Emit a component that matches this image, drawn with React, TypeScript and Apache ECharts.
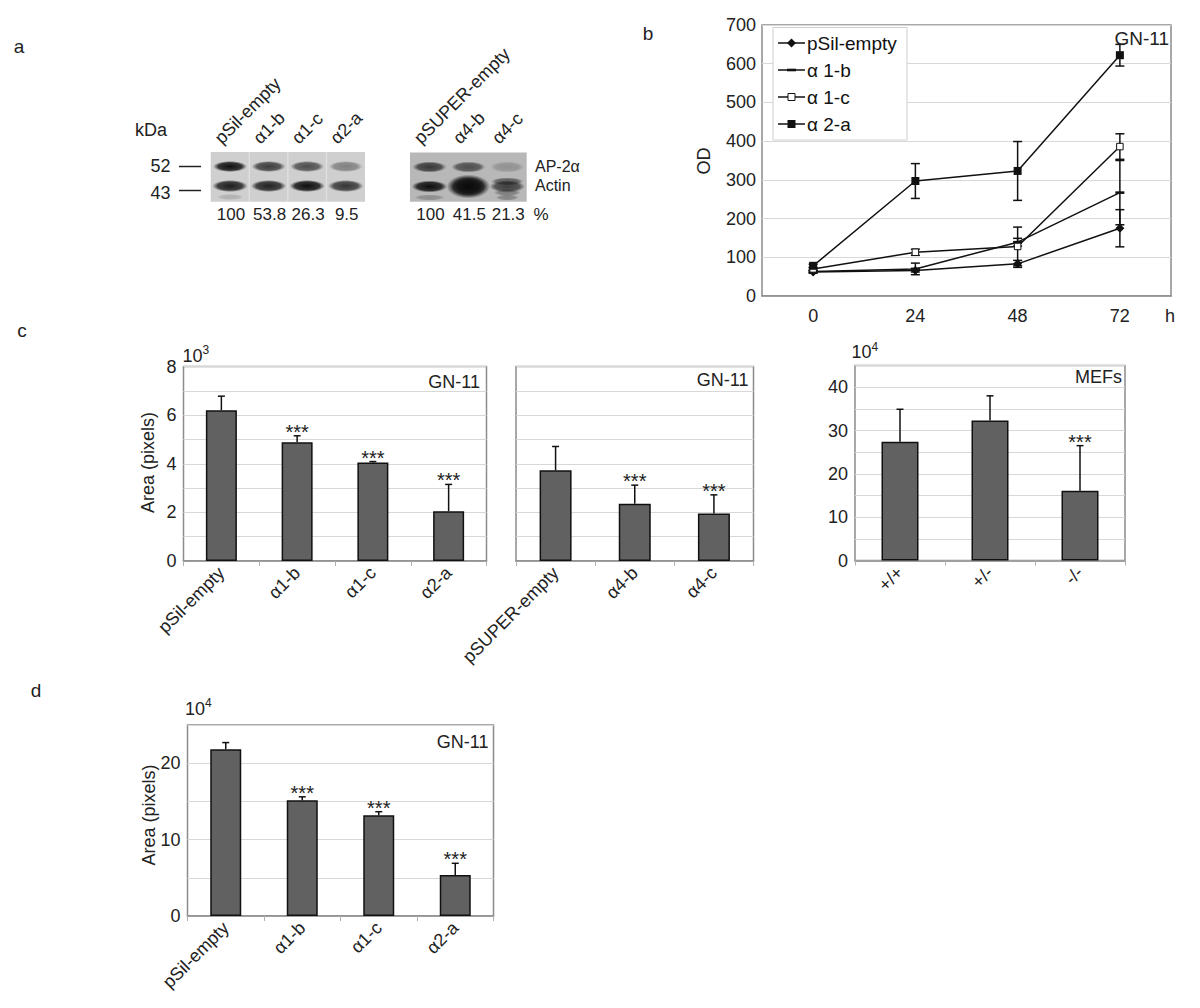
import React, { useEffect, useRef } from 'react';
import * as echarts from 'echarts';

const FONT = '"Liberation Sans", Arial, Helvetica, sans-serif';
const TXT = '#222';
const FRAME = '#8c8c8c';
const GRIDLINE = '#d8d8d8';
const BAR = '#616161';

// ---------- Panel a (western blots) ----------
const blot1Lanes = ['pSil-empty', 'α1-b', 'α1-c', 'α2-a'];
const blot1Percents = ['100', '53.8', '26.3', '9.5'];
const blot1Ap2 = [0.97, 0.74, 0.66, 0.4];
const blot1Actin = [0.9, 0.88, 0.98, 0.78];
const blot2Lanes = ['pSUPER-empty', 'α4-b', 'α4-c'];
const blot2Percents = ['100', '41.5', '21.3'];
const blot2Ap2 = [0.74, 0.62, 0.22];
const blot2Actin = [0.98, 1.0, 0.7];
const kDaMarkers = ['52', '43'];
const bandNames = ['AP-2α', 'Actin'];

// ---------- Panel b (OD growth curves) ----------
const hours = ['0', '24', '48', '72'];
const odNames = ['pSil-empty', 'α 1-b', 'α 1-c', 'α 2-a'];
const odPSil = [62, 66, 83, 175];
const odA1b = [63, 70, 139, 267];
const odA1c = [70, 113, 128, 386];
const odA2a = [78, 297, 323, 622];
const odPSilErr = [3, 4, 9, 48];
const odA1bErr = [3, 15, 10, 83];
const odA1cErr = [3, 8, 50, 33];
const odA2aErr = [4, 45, 76, 28];

// ---------- Panel c ----------
const c1Cats = ['pSil-empty', 'α1-b', 'α1-c', 'α2-a'];
const c1Means = [6.2, 4.88, 4.05, 2.05];
const c1Errs = [0.58, 0.27, 0.04, 1.1];
const c1Stars = [0, 1, 1, 1];
const c2Cats = ['pSUPER-empty', 'α4-b', 'α4-c'];
const c2Means = [3.73, 2.35, 1.95];
const c2Errs = [0.98, 0.77, 0.77];
const c2Stars = [0, 1, 1];
const c3Cats = ['+/+', '+/-', '-/-'];
const c3Means = [27.4, 32.3, 16.1];
const c3Errs = [7.5, 5.7, 10.4];
const c3Stars = [0, 0, 1];

// ---------- Panel d ----------
const dCats = ['pSil-empty', 'α1-b', 'α1-c', 'α2-a'];
const dMeans = [21.83, 15.15, 13.2, 5.37];
const dErrs = [0.87, 0.45, 0.45, 1.53];
const dStars = [0, 1, 1, 1];

function txt(text: string, x: number, y: number, fontSize = 18, align = 'center', extra: any = {}) {
  return {
    type: 'text', x, y, silent: true, z: 20,
    style: { text, fontSize, fontFamily: FONT, fill: TXT, align, verticalAlign: 'middle' },
    ...extra,
  };
}

function band(cx: number, cy: number, rx: number, ry: number, a: number) {
  return {
    type: 'ellipse', silent: true, z: 11,
    shape: { cx, cy, rx, ry },
    style: {
      fill: new echarts.graphic.RadialGradient(0.5, 0.5, 0.5, [
        { offset: 0, color: `rgba(10,10,10,${a})` },
        { offset: 0.7, color: `rgba(20,20,20,${a * 0.85})` },
        { offset: 1, color: 'rgba(40,40,40,0)' },
      ]),
    },
  };
}

function blot(x: number, y: number, w: number, h: number, bg: string, lanes: string[], percents: string[], ap2: number[], actin: number[], second: boolean) {
  const els: any[] = [];
  els.push({ type: 'rect', silent: true, z: 10, shape: { x, y, width: w, height: h }, style: { fill: bg } });
  const lw = w / lanes.length;
  lanes.forEach((lab, i) => {
    const cx = x + lw * (i + 0.5);
    if (!second && i > 0) {
      els.push({ type: 'line', silent: true, z: 10, shape: { x1: x + lw * i, y1: y, x2: x + lw * i, y2: y + h }, style: { stroke: '#dedede', lineWidth: 1.5 } });
    }
    els.push(band(cx, y + 14.5, lw * 0.44, 5.5, ap2[i]));
    if (second && i === 1) {
      els.push(band(cx, y + 34, lw * 0.56, 12, actin[i]));
      els.push(band(cx, y + 34, lw * 0.42, 9, actin[i]));
    } else {
      els.push(band(cx, y + 34, lw * 0.46, 6, actin[i]));
    }
    if (second && i === 2) {
      els.push(band(cx, y + 29, lw * 0.42, 4, 0.55));
      els.push(band(cx, y + 40, lw * 0.35, 3.5, 0.35));
      els.push(band(cx, y + 45, lw * 0.3, 3, 0.3));
    }
    if (second && i === 0) els.push(band(cx, y + 45, lw * 0.4, 3, 0.25));
    if (!second && i === 0) els.push(band(cx, y + 45, lw * 0.35, 3, 0.15));
    els.push(txt(percents[i], cx + 1, 214, 17));
    els.push({
      type: 'text', silent: true, z: 20, x: cx - 6, y: 147, rotation: Math.PI / 4,
      style: { text: lab, fontSize: 18, fontFamily: FONT, fill: TXT, align: 'left', verticalAlign: 'bottom' },
    });
  });
  return els;
}

function barErrSeries(idx: number, means: number[], errs: number[], stars: number[], cap = 7) {
  return {
    type: 'custom', xAxisIndex: idx, yAxisIndex: idx, z: 6, silent: true,
    data: means.map((m, i) => [i, m, m + errs[i], stars[i]]),
    renderItem: (params: any, api: any) => {
      const i = api.value(0);
      const p0 = api.coord([i, api.value(1)]);
      const p1 = api.coord([i, api.value(2)]);
      const children: any[] = [
        { type: 'line', shape: { x1: p0[0], y1: p0[1], x2: p1[0], y2: p1[1] }, style: { stroke: '#111', lineWidth: 1.5 } },
        { type: 'line', shape: { x1: p1[0] - cap / 2, y1: p1[1], x2: p1[0] + cap / 2, y2: p1[1] }, style: { stroke: '#111', lineWidth: 1.5 } },
      ];
      if (api.value(3)) {
        children.push({ type: 'text', x: p1[0], y: p1[1] - 4, style: { text: '***', fontSize: 20, fontFamily: FONT, fill: TXT, align: 'center', verticalAlign: 'middle' } });
      }
      return { type: 'group', children };
    },
  };
}

function odErrSeries(vals: number[], errs: number[]) {
  return {
    type: 'custom', xAxisIndex: 0, yAxisIndex: 0, z: 4, silent: true,
    data: vals.map((v, i) => [i, v - errs[i], v + errs[i]]),
    renderItem: (params: any, api: any) => {
      const i = api.value(0);
      const lo = api.coord([i, api.value(1)]);
      const hi = api.coord([i, api.value(2)]);
      const c = 4.5;
      return {
        type: 'group',
        children: [
          { type: 'line', shape: { x1: lo[0], y1: lo[1], x2: hi[0], y2: hi[1] }, style: { stroke: '#111', lineWidth: 1.5 } },
          { type: 'line', shape: { x1: lo[0] - c, y1: lo[1], x2: lo[0] + c, y2: lo[1] }, style: { stroke: '#111', lineWidth: 1.5 } },
          { type: 'line', shape: { x1: hi[0] - c, y1: hi[1], x2: hi[0] + c, y2: hi[1] }, style: { stroke: '#111', lineWidth: 1.5 } },
        ],
      };
    },
  };
}

function catAxis(gridIndex: number, data: string[]) {
  return {
    gridIndex, type: 'category', data,
    axisLine: { show: true, lineStyle: { color: FRAME, width: 1.5 } },
    axisTick: { show: true, length: 5, lineStyle: { color: '#b0b0b0' } },
    axisLabel: { rotate: 45, fontSize: 18, fontFamily: FONT, color: TXT, margin: 9, interval: 0 },
  };
}

function valAxis(gridIndex: number, max: number, interval: number, every: number, showLabels = true) {
  return {
    gridIndex, type: 'value', min: 0, max, interval,
    axisLine: { show: false }, axisTick: { show: false },
    splitLine: { show: true, lineStyle: { color: GRIDLINE, width: 1 } },
    axisLabel: {
      show: showLabels, fontSize: 18, fontFamily: FONT, color: TXT, margin: 7,
      formatter: (v: number) => (Math.round(v) % every === 0 ? String(v) : ''),
    },
  };
}

function barSeries(idx: number, means: number[], width: number) {
  return {
    type: 'bar', xAxisIndex: idx, yAxisIndex: idx, data: means, barWidth: width, silent: true,
    itemStyle: { color: BAR, borderColor: '#111', borderWidth: 1.5 },
  };
}

function sup(base: string, exp: string, x: number, y: number) {
  return {
    type: 'text', x, y, silent: true, z: 20,
    style: {
      text: `{a|${base}}{b|${exp}}`, fontFamily: FONT, fill: TXT, align: 'left', verticalAlign: 'middle',
      rich: { a: { fontSize: 18, fontFamily: FONT, fill: TXT }, b: { fontSize: 12, fontFamily: FONT, fill: TXT, padding: [0, 0, 11, 0] } },
    },
  };
}

function legendEls() {
  const els: any[] = [];
  els.push({ type: 'rect', silent: true, z: 15, shape: { x: 773, y: 27.5, width: 134, height: 112.5 }, style: { fill: '#fff', stroke: '#cfcfcf', lineWidth: 1 } });
  odNames.forEach((n, i) => {
    const y = 43 + i * 27;
    els.push({ type: 'line', silent: true, z: 16, shape: { x1: 778, y1: y, x2: 805, y2: y }, style: { stroke: '#111', lineWidth: 1.5 } });
    const cx = 791.5;
    if (i === 0) els.push({ type: 'polygon', silent: true, z: 17, shape: { points: [[cx, y - 4.5], [cx + 4.5, y], [cx, y + 4.5], [cx - 4.5, y]] }, style: { fill: '#111' } });
    if (i === 1) els.push({ type: 'rect', silent: true, z: 17, shape: { x: cx - 4.5, y: y - 1.3, width: 9, height: 2.6 }, style: { fill: '#111' } });
    if (i === 2) els.push({ type: 'rect', silent: true, z: 17, shape: { x: cx - 3.5, y: y - 3.5, width: 7, height: 7 }, style: { fill: '#fff', stroke: '#111', lineWidth: 1 } });
    if (i === 3) els.push({ type: 'rect', silent: true, z: 17, shape: { x: cx - 4, y: y - 4, width: 8, height: 8 }, style: { fill: '#111' } });
    els.push({ type: 'text', silent: true, z: 17, x: 807, y, style: { text: n, fontSize: 19, fontFamily: FONT, fill: '#111', align: 'left', verticalAlign: 'middle' } });
  });
  return els;
}

export default function App() {
  const ref = useRef<HTMLDivElement>(null);
  useEffect(() => {
    if (!ref.current) return;
    const chart = echarts.init(ref.current, undefined, { renderer: 'svg' });
    const lineStyle = { color: '#111', width: 1.5 };
    const graphics: any[] = [
      txt('a', 19, 46, 19), txt('b', 648, 33, 19), txt('c', 22, 330, 19), txt('d', 36, 690, 19),
      // panel a
      txt('kDa', 135, 129.5, 18, 'left'),
      txt(kDaMarkers[0], 170.5, 166, 18, 'right'),
      txt(kDaMarkers[1], 170.5, 192.5, 18, 'right'),
      { type: 'line', silent: true, z: 20, shape: { x1: 179, y1: 166.5, x2: 201, y2: 166.5 }, style: { stroke: TXT, lineWidth: 1.5 } },
      { type: 'line', silent: true, z: 20, shape: { x1: 179, y1: 190.5, x2: 201, y2: 190.5 }, style: { stroke: TXT, lineWidth: 1.5 } },
      ...blot(210.7, 152, 154.3, 49.7, '#cfcfcf', blot1Lanes, blot1Percents, blot1Ap2, blot1Actin, false),
      ...blot(410, 152.5, 116.7, 49.2, '#b8b8b8', blot2Lanes, blot2Percents, blot2Ap2, blot2Actin, true),
      txt(bandNames[0], 535, 166.5, 16, 'left'),
      txt(bandNames[1], 535, 185, 16, 'left'),
      txt('%', 541, 214, 17),
      // panel b
      txt('OD', 704, 161, 18, 'center', { rotation: Math.PI / 2 }),
      txt('h', 1170, 316, 18),
      txt('GN-11', 1169, 38, 19, 'right'),
      ...legendEls(),
      // panel c
      txt('Area (pixels)', 147.5, 462.5, 18, 'center', { rotation: Math.PI / 2 }),
      sup('10', '3', 182.5, 355.5),
      txt('GN-11', 480, 382, 18, 'right'),
      txt('GN-11', 748.5, 380, 18, 'right'),
      sup('10', '4', 851.5, 352),
      txt('MEFs', 1122, 377, 18, 'right'),
      // panel d
      txt('Area (pixels)', 148.5, 815, 18, 'center', { rotation: Math.PI / 2 }),
      sup('10', '4', 185, 708.5),
      txt('GN-11', 488.5, 742, 18, 'right'),
    ];

    const option: any = {
      animation: false,
      backgroundColor: '#fff',
      textStyle: { fontFamily: FONT },
      grid: [
        { left: 762, top: 25, width: 409, height: 271, show: true, borderColor: FRAME, borderWidth: 1.5, containLabel: false },
        { left: 183.5, top: 366.5, width: 303, height: 194.5, show: true, borderColor: FRAME, borderWidth: 1.5 },
        { left: 516, top: 366.5, width: 237.5, height: 194.5, show: true, borderColor: FRAME, borderWidth: 1.5 },
        { left: 855, top: 365.5, width: 270, height: 195, show: true, borderColor: FRAME, borderWidth: 1.5 },
        { left: 187.5, top: 725, width: 306, height: 191, show: true, borderColor: FRAME, borderWidth: 1.5 },
      ],
      xAxis: [
        {
          gridIndex: 0, type: 'category', data: hours, boundaryGap: true,
          axisLine: { show: true, lineStyle: { color: FRAME, width: 1.5 } }, axisTick: { show: false },
          axisLabel: { fontSize: 18, fontFamily: FONT, color: TXT, margin: 11 },
        },
        catAxis(1, c1Cats),
        catAxis(2, c2Cats),
        catAxis(3, c3Cats),
        catAxis(4, dCats),
      ],
      yAxis: [
        {
          gridIndex: 0, type: 'value', min: 0, max: 700, interval: 100,
          axisLine: { show: false }, axisTick: { show: false },
          splitLine: { show: true, lineStyle: { color: GRIDLINE, width: 1 } },
          axisLabel: { fontSize: 18, fontFamily: FONT, color: TXT, margin: 6 },
        },
        valAxis(1, 8, 1, 2),
        valAxis(2, 8, 1, 2, false),
        valAxis(3, 45, 5, 10),
        valAxis(4, 25, 5, 10),
      ],
      graphic: graphics,
      series: [
        { name: odNames[0], type: 'line', xAxisIndex: 0, yAxisIndex: 0, data: odPSil, symbol: 'diamond', symbolSize: 9, lineStyle, itemStyle: { color: '#111' }, z: 5 },
        { name: odNames[1], type: 'line', xAxisIndex: 0, yAxisIndex: 0, data: odA1b, symbol: 'rect', symbolSize: [9, 2.6], lineStyle, itemStyle: { color: '#111' }, z: 5 },
        { name: odNames[2], type: 'line', xAxisIndex: 0, yAxisIndex: 0, data: odA1c, symbol: 'rect', symbolSize: 6.5, lineStyle, itemStyle: { color: '#fff', borderColor: '#111', borderWidth: 1 }, z: 5 },
        { name: odNames[3], type: 'line', xAxisIndex: 0, yAxisIndex: 0, data: odA2a, symbol: 'rect', symbolSize: 8, lineStyle, itemStyle: { color: '#111' }, z: 5 },
        odErrSeries(odPSil, odPSilErr),
        odErrSeries(odA1b, odA1bErr),
        odErrSeries(odA1c, odA1cErr),
        odErrSeries(odA2a, odA2aErr),
        barSeries(1, c1Means, 31),
        barErrSeries(1, c1Means, c1Errs, c1Stars),
        barSeries(2, c2Means, 32),
        barErrSeries(2, c2Means, c2Errs, c2Stars),
        barSeries(3, c3Means, 37),
        barErrSeries(3, c3Means, c3Errs, c3Stars),
        barSeries(4, dMeans, 31),
        barErrSeries(4, dMeans, dErrs, dStars),
      ],
    };
    chart.setOption(option);
    return () => chart.dispose();
  }, []);
  return <div ref={ref} style={{ position: 'absolute', left: 0, top: 0, width: 1200, height: 1008, background: '#fff' }} />;
}
